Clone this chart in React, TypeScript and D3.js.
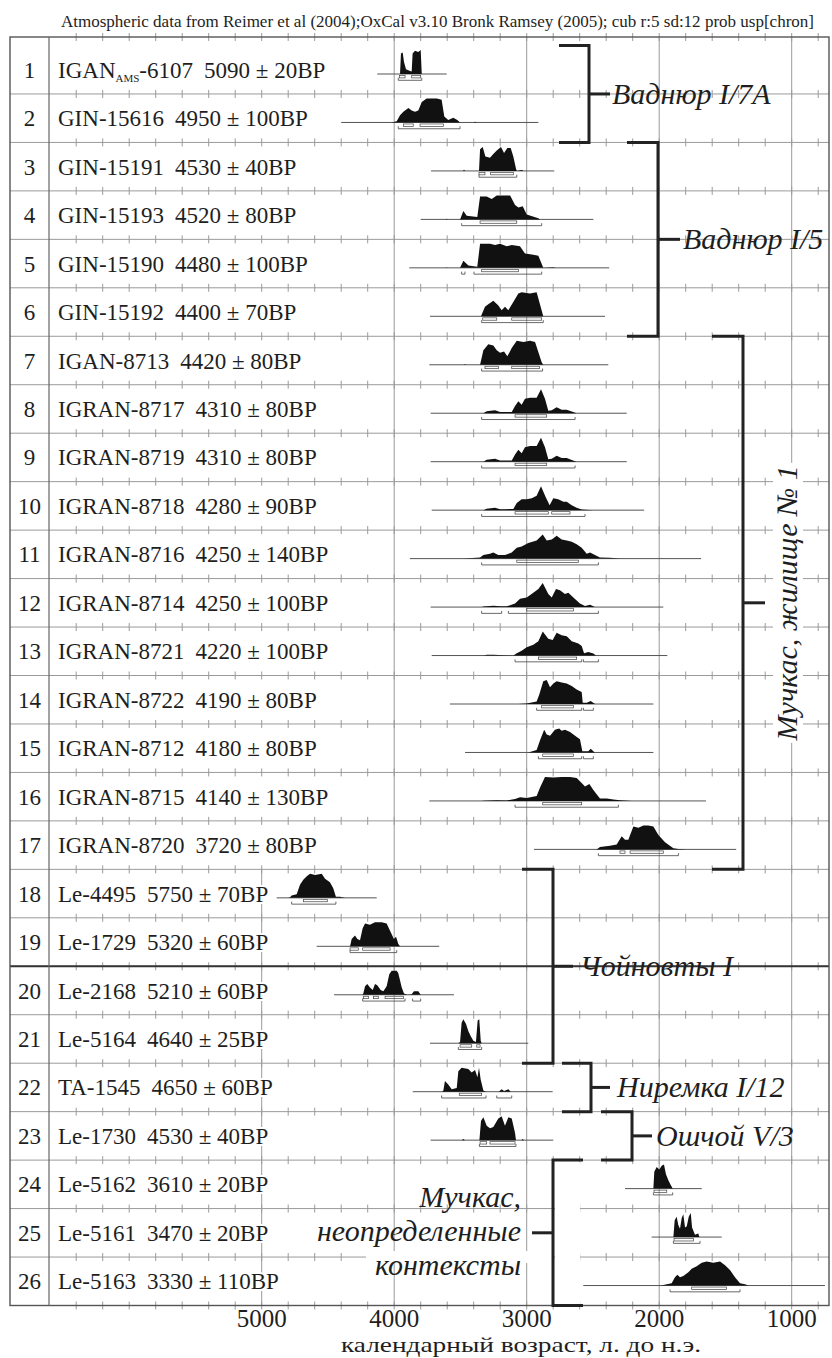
import * as d3 from "d3";

// OxCal calibration plot: 26 radiocarbon dates, grouped by site
const labCodes = [
  "IGAN_AMS-6107", "GIN-15616", "GIN-15191", "GIN-15193", "GIN-15190", "GIN-15192",
  "IGAN-8713", "IGRAN-8717", "IGRAN-8719", "IGRAN-8718", "IGRAN-8716", "IGRAN-8714",
  "IGRAN-8721", "IGRAN-8722", "IGRAN-8712", "IGRAN-8715", "IGRAN-8720", "Le-4495",
  "Le-1729", "Le-2168", "Le-5164", "TA-1545", "Le-1730", "Le-5162", "Le-5161", "Le-5163",
];
const bpDates = [
  "5090 ± 20BP", "4950 ± 100BP", "4530 ± 40BP", "4520 ± 80BP", "4480 ± 100BP", "4400 ± 70BP",
  "4420 ± 80BP", "4310 ± 80BP", "4310 ± 80BP", "4280 ± 90BP", "4250 ± 140BP", "4250 ± 100BP",
  "4220 ± 100BP", "4190 ± 80BP", "4180 ± 80BP", "4140 ± 130BP", "3720 ± 80BP", "5750 ± 70BP",
  "5320 ± 60BP", "5210 ± 60BP", "4640 ± 25BP", "4650 ± 60BP", "4530 ± 40BP", "3610 ± 20BP",
  "3470 ± 20BP", "3330 ± 110BP",
];

// extent of the thin line under each distribution (cal BC)
const rangeFrom = [4128, 4400, 3722, 3800, 3886, 3730, 3735, 3725, 3725, 3717, 3881, 3725, 3717,
  3579, 3465, 3735, 2945, 4887, 4585, 4454, 3730, 3860, 3725, 2258, 2057, 2573];
const rangeTo = [3604, 2912, 2792, 2497, 2377, 2409, 2384, 2245, 2245, 2114, 1684, 1969, 1939,
  2044, 2044, 1647, 1419, 4132, 3660, 3549, 2988, 2804, 2799, 1679, 1528, 749];

const hpd68 = [
  [[3961, 3918], [3868, 3800]], [[3931, 3856], [3805, 3629]], [[3360, 3315], [3272, 3101]],
  [[3352, 3075]], [[3340, 3063]], [[3332, 3226], [3113, 2887]], [[3315, 3214], [3113, 2904]],
  [[3088, 2849]], [[3088, 2849]], [[3088, 2837], [2811, 2673]], [[3075, 2610]], [[3000, 2648]],
  [[2912, 2623]], [[2887, 2648]], [[2879, 2648]], [[2879, 2585]], [[2296, 2258], [2220, 1969]],
  [[4686, 4505]], [[4333, 4271], [4238, 4031]], [[4233, 4195], [4157, 4120], [4069, 3931]],
  [[3503, 3415], [3377, 3352]], [[3509, 3340]], [[3352, 3302], [3277, 3088]], [[2039, 1943]],
  [[1888, 1742]], [[1755, 1491]],
];
const hpd95 = [
  [[3969, 3792]], [[3969, 3503]], [[3360, 3075]], [[3491, 2887]], [[3491, 3466], [3398, 2887]],
  [[3340, 2875]], [[3340, 2880]], [[3340, 2635]], [[3340, 2635]], [[3340, 2560]], [[3340, 2459]],
  [[3340, 3189], [3138, 2459]], [[3088, 2585], [2572, 2459]], [[2925, 2585], [2572, 2497]],
  [[2912, 2585], [2572, 2497]], [[3088, 2308]], [[2459, 1855]], [[4774, 4440]], [[4333, 3981]],
  [[4238, 3918], [3861, 3800]], [[3516, 3340]], [[3642, 3307], [3226, 3113]], [[3357, 3081]],
  [[2044, 1898]], [[1893, 1692]], [[1918, 1390]],
];

// probability distributions: [cal BC, relative probability]
const dens01 = [[3956, 0], [3949, 0.85], [3936, 0.9], [3926, 0.5], [3911, 0.2], [3880, 0.12], [3868, 0.1], [3861, 0.85], [3843, 0.97], [3818, 0.92], [3800, 1], [3792, 0]];
const dens02 = [[4019, 0], [3981, 0.05], [3956, 0.3], [3931, 0.45], [3893, 0.6], [3868, 0.5], [3843, 0.45], [3818, 0.5], [3792, 0.85], [3755, 1], [3679, 1], [3642, 0.95], [3622, 0.25], [3592, 0.1], [3554, 0.2], [3524, 0.1], [3503, 0], [3400, 0], [3390, 0.03], [3375, 0]];
const dens03 = [[3480, 0], [3473, 0.06], [3466, 0], [3360, 0], [3352, 0.9], [3332, 1], [3312, 0.6], [3277, 0.55], [3252, 0.7], [3226, 0.85], [3194, 1], [3171, 0.75], [3146, 0.95], [3121, 0.95], [3101, 0.6], [3081, 0.1], [3075, 0], [3035, 0.04], [3025, 0]];
const dens04 = [[3610, 0], [3604, 0.03], [3598, 0], [3503, 0], [3478, 0.35], [3453, 0.15], [3373, 0.1], [3352, 0.95], [3302, 0.95], [3264, 0.85], [3226, 1], [3125, 1], [3088, 0.6], [3063, 0.5], [3030, 0.55], [3000, 0.2], [2912, 0.05], [2900, 0]];
const dens05 = [[3610, 0], [3604, 0.03], [3598, 0], [3503, 0], [3478, 0.3], [3440, 0.1], [3373, 0.05], [3352, 1], [3277, 1], [3239, 0.95], [3201, 1], [3151, 0.9], [3113, 0.95], [3051, 0.9], [3013, 0.6], [2950, 0.55], [2912, 0.5], [2875, 0], [2800, 0.02], [2780, 0]];
const dens06 = [[3345, 0], [3315, 0.4], [3290, 0.5], [3252, 0.65], [3214, 0.45], [3189, 0.25], [3164, 0.4], [3139, 0.25], [3101, 0.6], [3063, 0.95], [3038, 1], [2975, 0.95], [2925, 1], [2875, 0]];
const dens07 = [[3473, 0], [3466, 0.03], [3460, 0], [3352, 0], [3327, 0.6], [3290, 0.85], [3252, 0.8], [3226, 0.6], [3201, 0.5], [3171, 0.55], [3146, 0.35], [3113, 0.7], [3075, 1], [3025, 0.95], [2975, 1], [2937, 0.95], [2887, 0.1], [2875, 0]];
const dens08 = [[3327, 0], [3302, 0.08], [3239, 0.12], [3201, 0.05], [3164, 0.05], [3113, 0.05], [3088, 0.3], [3063, 0.5], [3038, 0.35], [3013, 0.6], [2975, 0.65], [2925, 0.65], [2892, 1], [2862, 0.6], [2837, 0.1], [2811, 0.12], [2774, 0.25], [2736, 0.15], [2698, 0.15], [2660, 0.07], [2623, 0]];
const dens09 = [[3327, 0], [3302, 0.08], [3239, 0.12], [3201, 0.05], [3164, 0.05], [3113, 0.05], [3088, 0.3], [3063, 0.5], [3038, 0.35], [3013, 0.6], [2975, 0.65], [2925, 0.65], [2892, 1], [2862, 0.6], [2837, 0.1], [2811, 0.12], [2774, 0.25], [2736, 0.15], [2698, 0.15], [2660, 0.07], [2623, 0]];
const dens10 = [[3327, 0], [3302, 0.06], [3239, 0.1], [3201, 0.04], [3164, 0.04], [3101, 0.05], [3075, 0.3], [3038, 0.45], [3000, 0.45], [2962, 0.5], [2925, 0.6], [2892, 1], [2857, 0.55], [2827, 0.2], [2799, 0.5], [2762, 0.45], [2723, 0.35], [2698, 0.35], [2660, 0.2], [2623, 0.1], [2585, 0.03], [2497, 0]];
const dens11 = [[3478, 0], [3440, 0.02], [3352, 0.05], [3327, 0.15], [3277, 0.2], [3252, 0.25], [3214, 0.15], [3164, 0.15], [3113, 0.25], [3075, 0.45], [3038, 0.5], [2988, 0.65], [2925, 0.75], [2879, 1], [2849, 0.75], [2811, 0.8], [2774, 0.95], [2736, 0.8], [2698, 0.75], [2660, 0.7], [2623, 0.6], [2585, 0.45], [2547, 0.2], [2522, 0.25], [2485, 0.15], [2447, 0.05], [2372, 0.04], [2296, 0]];
const dens12 = [[3340, 0], [3327, 0.02], [3252, 0.06], [3201, 0.03], [3151, 0.03], [3088, 0.15], [3050, 0.35], [3000, 0.4], [2950, 0.6], [2912, 0.75], [2879, 1], [2837, 0.55], [2811, 0.4], [2779, 0.75], [2749, 0.7], [2711, 0.55], [2686, 0.6], [2648, 0.4], [2598, 0.15], [2560, 0.05], [2522, 0.1], [2485, 0]];
const dens13 = [[3320, 0], [3302, 0.03], [3252, 0.03], [3101, 0], [3075, 0.1], [3038, 0.2], [3000, 0.35], [2950, 0.45], [2912, 0.6], [2879, 1], [2837, 0.7], [2804, 0.65], [2774, 0.95], [2736, 0.85], [2698, 0.8], [2660, 0.6], [2610, 0.5], [2585, 0.4], [2567, 0.1], [2535, 0.15], [2497, 0.08], [2477, 0]];
const dens14 = [[3063, 0], [3000, 0.02], [2925, 0.1], [2905, 0.4], [2875, 0.95], [2849, 1], [2824, 0.7], [2799, 0.85], [2774, 0.95], [2736, 0.9], [2698, 0.85], [2660, 0.75], [2623, 0.6], [2585, 0.5], [2577, 0.05], [2547, 0.05], [2517, 0.12], [2485, 0]];
const dens15 = [[2988, 0], [2925, 0.1], [2900, 0.5], [2868, 0.95], [2849, 0.75], [2824, 0.7], [2787, 0.95], [2755, 1], [2736, 0.9], [2711, 0.95], [2673, 0.85], [2635, 0.7], [2598, 0.55], [2580, 0.05], [2535, 0.05], [2517, 0.15], [2497, 0.05], [2485, 0]];
const dens16 = [[3340, 0], [3327, 0.01], [3226, 0.03], [3151, 0.02], [3088, 0.08], [3050, 0.15], [3000, 0.12], [2925, 0.2], [2900, 0.55], [2862, 1], [2799, 0.98], [2736, 1], [2673, 1], [2623, 0.95], [2585, 0.75], [2560, 0.6], [2527, 0.7], [2497, 0.45], [2447, 0.1], [2396, 0.1], [2346, 0.06], [2296, 0.03], [2208, 0]];
const dens17 = [[2472, 0], [2447, 0.1], [2371, 0.15], [2321, 0.2], [2283, 0.55], [2258, 0.4], [2233, 0.4], [2195, 0.95], [2157, 0.9], [2119, 1], [2082, 1], [2044, 0.95], [2006, 0.6], [1956, 0.3], [1893, 0.05], [1855, 0.02], [1792, 0]];
const dens18 = [[4800, 0], [4786, 0.02], [4774, 0.1], [4736, 0.15], [4711, 0.55], [4686, 0.75], [4660, 0.9], [4635, 1], [4597, 0.95], [4547, 1], [4522, 0.8], [4485, 0.65], [4460, 0.4], [4440, 0.05], [4409, 0.05], [4371, 0]];
const dens19 = [[4333, 0], [4321, 0.3], [4296, 0.45], [4278, 0.3], [4258, 0.25], [4238, 0.75], [4220, 0.95], [4183, 0.9], [4145, 1], [4094, 1], [4057, 0.95], [4019, 0.5], [4002, 0.3], [3986, 0.4], [3969, 0.1], [3956, 0]];
const dens20 = [[4240, 0], [4233, 0.05], [4220, 0.35], [4203, 0.45], [4183, 0.3], [4162, 0.2], [4145, 0.45], [4128, 0.4], [4102, 0.2], [4082, 0.15], [4057, 0.35], [4037, 0.85], [4019, 1], [3981, 1], [3969, 0.9], [3943, 0.3], [3926, 0.05], [3900, 0], [3868, 0.02], [3851, 0.15], [3818, 0.15], [3800, 0]];
const dens21 = [[3516, 0], [3503, 0.05], [3491, 0.85], [3478, 1], [3458, 0.8], [3440, 0.5], [3423, 0.3], [3403, 0.1], [3383, 0.05], [3370, 0.95], [3358, 1], [3347, 0.1], [3340, 0]];
const dens22 = [[3640, 0], [3629, 0.05], [3617, 0.45], [3592, 0.3], [3566, 0.1], [3528, 0.15], [3516, 0.85], [3491, 1], [3441, 0.95], [3415, 0.8], [3390, 0.9], [3372, 0.6], [3360, 1], [3347, 0.5], [3327, 0.05], [3307, 0], [3210, 0], [3201, 0.05], [3189, 0.1], [3171, 0.03], [3138, 0.1], [3121, 0]];
const dens23 = [[3490, 0], [3478, 0.05], [3466, 0], [3357, 0], [3345, 0.8], [3327, 0.95], [3302, 0.6], [3277, 0.5], [3252, 0.55], [3214, 0.9], [3189, 1], [3164, 0.6], [3138, 0.95], [3113, 0.9], [3088, 0.3], [3081, 0], [3040, 0], [3030, 0.05], [3020, 0]];
const dens24 = [[2044, 0], [2037, 0.7], [2019, 0.9], [1999, 0.8], [1981, 0.95], [1964, 1], [1949, 0.6], [1931, 0.35], [1913, 0.15], [1898, 0]];
const dens25 = [[1893, 0], [1883, 0.7], [1868, 0.85], [1856, 0.5], [1843, 0.35], [1830, 0.8], [1818, 0.95], [1805, 0.4], [1792, 0.45], [1777, 0.85], [1762, 1], [1752, 0.4], [1730, 0.1], [1705, 0.15], [1697, 0]];
const dens26 = [[1990, 0], [1969, 0.02], [1906, 0.1], [1881, 0.35], [1863, 0.45], [1843, 0.35], [1818, 0.4], [1780, 0.55], [1755, 0.7], [1717, 0.8], [1679, 0.95], [1642, 1], [1591, 0.95], [1541, 1], [1503, 0.85], [1466, 0.65], [1428, 0.35], [1390, 0.1], [1352, 0.05], [1327, 0]];

const densities = [dens01, dens02, dens03, dens04, dens05, dens06, dens07, dens08, dens09, dens10,
  dens11, dens12, dens13, dens14, dens15, dens16, dens17, dens18, dens19, dens20, dens21, dens22,
  dens23, dens24, dens25, dens26];

// site groups (row numbers, 1-based)
const groupNames = ["Ваднюр I/7A", "Ваднюр I/5", "Мучкас, жилище № 1", "Чойновты I",
  "Ниремка I/12", "Ошчой V/3", "Мучкас, неопределенные контексты"];
const groupFirst = [1, 3, 7, 18, 22, 23, 24];
const groupLast = [2, 6, 17, 21, 22, 23, 26];

const axisYears = [5000, 4000, 3000, 2000, 1000];
const header = "Atmospheric data from Reimer et al (2004);OxCal v3.10 Bronk Ramsey (2005); cub r:5 sd:12 prob usp[chron]";
const axisTitle = "календарный возраст, л. до н.э.";

// layout of the bracket for each group
const bracketLayout = [
  { x: 589, arm: 30, tick: 21, side: "right", lx: 612, rot: false },
  { x: 658, arm: 31, tick: 22, side: "right", lx: 683, rot: false },
  { x: 743, arm: 31, tick: 22, side: "right", lx: 797, rot: true },
  { x: 553, arm: 31, tick: 20, side: "right", lx: 580, rot: false },
  { x: 591, arm: 29, tick: 19, side: "right", lx: 617, rot: false },
  { x: 632, arm: 31, tick: 20, side: "right", lx: 656, rot: false },
  { x: 553, arm: 30, tick: 21, side: "left", lx: 521, rot: false },
];

const W = 832, H = 1358;
const frame = { left: 10, right: 829, top: 37, bottom: 1305.5, divider: 49 };
const serif = "Liberation Serif, Times New Roman, serif";
const ink = "#1e1e1e";
const gridCol = "#9a9a9a";
const peakH = 24;

export default function App() {
  const x = d3.scaleLinear().domain([3000, 1000]).range([526.7, 791.7]);
  const rows = d3.range(1, 27);
  const y = d3.scaleBand<number>().domain(rows).range([45.5, frame.bottom]);
  const step = y.step();
  const base = (r: number) => (y(r) as number) + 28.5;
  const mid = (r: number) => (y(r) as number) + step / 2;

  const tickYears = d3.range(6400, 799, -200);
  const hLines = [frame.top, ...rows.slice(1).map((r) => y(r) as number), frame.bottom];

  const area = (b: number) =>
    d3.area<number[]>()
      .x((d) => x(d[0]))
      .y0(b)
      .y1((d) => b - d[1] * peakH);

  const halo = { paintOrder: "stroke" as const, stroke: "#fff", strokeWidth: 4, strokeLinejoin: "round" as const };

  return (
    <svg width={W} height={H} style={{ position: "absolute", left: 0, top: 0, background: "#fff" }}
      fontFamily={serif}>
      <rect width={W} height={H} fill="#fff" />
      <text x={61} y={27} fontSize={16} fill={ink} textLength={753} lengthAdjust="spacingAndGlyphs">{header}</text>

      {/* grid */}
      <g stroke={gridCol} strokeWidth={1} fill="none">
        {hLines.slice(1, -1).map((v, i) => (
          <line key={"h" + i} x1={frame.left} x2={frame.right} y1={v} y2={v} />
        ))}
        {axisYears.map((yr) => (
          <line key={"v" + yr} x1={x(yr)} x2={x(yr)}
            y1={yr === 5000 ? (y(18) as number) : frame.top} y2={frame.bottom} />
        ))}
        {hLines.map((v, i) =>
          tickYears.map((yr) => (
            <line key={"t" + i + "-" + yr} x1={x(yr)} x2={x(yr)} y1={v - 4} y2={v + 4} />
          ))
        )}
      </g>
      <line x1={frame.left} x2={frame.right} y1={y(20)} y2={y(20)} stroke="#333" strokeWidth={2} />
      <rect x={555} y={(y(24) as number) + 2} width={25} height={frame.bottom - (y(24) as number) - 3} fill="#fff" />
      <rect x={366} y={(y(26) as number) - 6} width={186} height={12} fill="#fff" />
      <rect x={frame.left} y={frame.top} width={frame.right - frame.left} height={frame.bottom - frame.top}
        fill="none" stroke="#555" strokeWidth={1.4} />
      <line x1={frame.divider} x2={frame.divider} y1={frame.top} y2={frame.bottom} stroke="#666" strokeWidth={1.2} />

      {/* row labels */}
      {rows.map((r, i) => {
        const m = labCodes[i].match(/^([A-Z]+)_([A-Z]+)(.*)$/);
        const ty = mid(r) + 8;
        return (
          <g key={"lab" + r} fill={ink} fontSize={23}>
            <text x={29.5} y={ty} textAnchor="middle">{r}</text>
            <text x={58} y={ty} {...halo}>
              {m ? (
                <>
                  {m[1]}
                  <tspan fontSize={11} dy={4}>{m[2]}</tspan>
                  <tspan dy={-4}>{m[3]}</tspan>
                </>
              ) : labCodes[i]}
              <tspan dx={11}>{bpDates[i]}</tspan>
            </text>
          </g>
        );
      })}

      {/* distributions */}
      {rows.map((r, i) => {
        const b = base(r);
        return (
          <g key={"d" + r}>
            <line x1={x(rangeFrom[i])} x2={x(rangeTo[i])} y1={b} y2={b} stroke="#555" strokeWidth={1} />
            <path d={area(b)(densities[i]) as string} fill="#111" />
            {hpd68[i].map(([a, c], k) => (
              <rect key={"s" + k} x={x(a)} y={b + 1.5} width={x(c) - x(a)} height={2.4}
                fill="none" stroke="#444" strokeWidth={0.7} />
            ))}
            {hpd95[i].map(([a, c], k) => (
              <path key={"n" + k}
                d={`M${x(a)},${b + 3.8}V${b + 6.3}H${x(c)}V${b + 3.8}`}
                fill="none" stroke="#444" strokeWidth={0.8} />
            ))}
          </g>
        );
      })}

      {/* group brackets */}
      {groupNames.map((name, g) => {
        const L = bracketLayout[g];
        const y0 = y(groupFirst[g]) as number;
        const y1 = (y(groupLast[g]) as number) + step;
        const ym = (y0 + y1) / 2;
        const dir = L.side === "right" ? -1 : 1;
        return (
          <g key={"g" + g}>
            <path d={`M${L.x + dir * L.arm},${y0}H${L.x}V${y1}H${L.x + dir * L.arm}`}
              fill="none" stroke="#222" strokeWidth={3} />
            <line x1={L.x} x2={L.x - dir * L.tick} y1={ym} y2={ym} stroke="#222" strokeWidth={3} />
            {L.rot ? (
              <g transform={`translate(${L.lx},${ym}) rotate(-90)`}>
                <rect x={-140} y={-24} width={280} height={30} fill="#fff" />
                <text textAnchor="middle" fontSize={30} fontStyle="italic" fill={ink}>{name}</text>
              </g>
            ) : L.side === "left" ? (
              <text x={L.lx} y={ym - 26} fontSize={30} fontStyle="italic" fill={ink} textAnchor="end">
                {name.split(" ").map((w, k) => (
                  <tspan key={k} x={L.lx} dy={k === 0 ? 0 : 34}>{w}</tspan>
                ))}
              </text>
            ) : (
              <text x={L.lx} y={ym + 10} fontSize={30} fontStyle="italic" fill={ink}>{name}</text>
            )}
          </g>
        );
      })}

      {/* x axis */}
      {axisYears.map((yr) => (
        <text key={"a" + yr} x={x(yr)} y={1327} fontSize={25} textAnchor="middle" fill={ink}>{yr}</text>
      ))}
      <text x={521} y={1352} fontSize={22} textAnchor="middle" fill={ink}
        textLength={360} lengthAdjust="spacingAndGlyphs">{axisTitle}</text>
    </svg>
  );
}
